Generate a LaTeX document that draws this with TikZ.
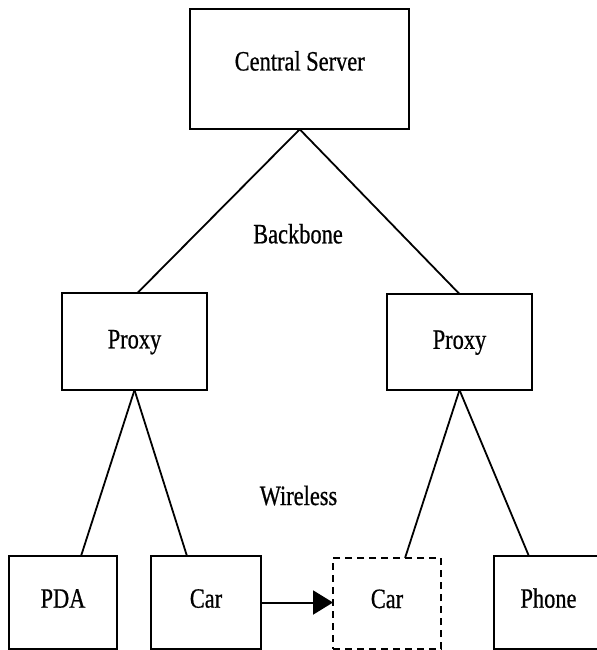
\documentclass[tikz,border=0pt]{standalone}
\usepackage{fontspec}
\setmainfont{Liberation Serif}
\newfontfamily\labfont[FakeStretch=0.8, FakeBold=0.6]{Liberation Serif}
\usetikzlibrary{calc,arrows.meta}
\tikzset{
  box/.style={draw=black, line width=2bp, rectangle, inner sep=0pt, outer sep=0pt,
    font=\labfont\fontsize{28bp}{30bp}\selectfont, text height=19bp},
  dashbox/.style={box, dash pattern=on 7bp off 5bp},
  link/.style={line width=1.8bp, black},
  lbl/.style={font=\labfont\fontsize{28bp}{30bp}\selectfont, inner sep=0pt, anchor=base},
  move/.style={line width=2bp, -{Triangle[length=20bp,width=24bp]}}
}
\begin{document}
\begin{tikzpicture}[x=1bp, y=-1bp]
\fill[white] (0,0) rectangle (597,650);
\useasboundingbox (0,0) rectangle (597,650);
\clip (0,0) rectangle (597,650);

\node[box, minimum width=219bp, minimum height=120bp, text depth=16.6bp] (server) at (299.7,69.3) {Central Server};
\node[box, minimum width=145bp, minimum height=97bp, text depth=5.4bp] (pl) at (134.5,341.5) {Proxy};
\node[box, minimum width=145bp, minimum height=96bp, text depth=5.4bp] (pr) at (459.5,342) {Proxy};

\node[box, minimum width=108bp, minimum height=93bp, text depth=8.6bp] (pda) at (63,602.5) {PDA};
\node[box, minimum width=110bp, minimum height=93bp, text depth=8.6bp] (car) at (206,602.5) {Car};
\node[dashbox, minimum width=108bp, minimum height=91bp, text depth=10bp] (carb) at (387,603.5) {Car};
\node[box, minimum width=109bp, minimum height=93bp, text depth=8.6bp] (phone) at (548.5,602.5) {Phone};

\node[lbl] (backbone) at (298,243.3) {Backbone};
\node[lbl] (wireless) at (298.5,505) {Wireless};

\draw[link] (server.south) -- ($(pl.north west)!0.52!(pl.north east)$);
\draw[link] (server.south) -- (pr.north);
\draw[link] (pl.south) -- ($(pda.north west)!0.667!(pda.north east)$);
\draw[link] (pl.south) -- ($(car.north west)!0.327!(car.north east)$);
\draw[link] (pr.south) -- ($(carb.north west)!0.667!(carb.north east)$);
\draw[link] (pr.south) -- ($(phone.north west)!0.32!(phone.north east)$);

\draw[move] (car.east) -- (car.east -| carb.west);
\end{tikzpicture}
\end{document}
